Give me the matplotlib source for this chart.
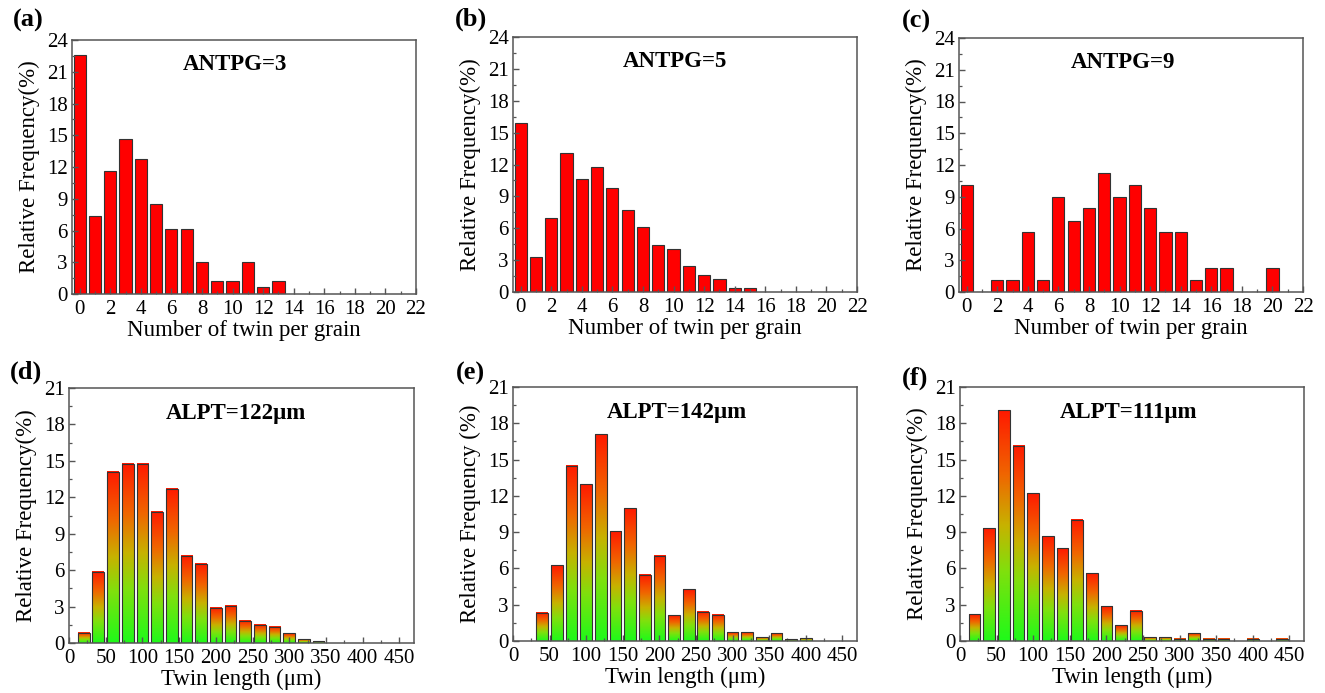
import numpy as np
import matplotlib
matplotlib.use("Agg")
import matplotlib.pyplot as plt
from matplotlib.colors import LinearSegmentedColormap
from matplotlib.ticker import MultipleLocator

plt.rcParams['font.family'] = ['Liberation Serif', 'DejaVu Serif']

# Twin count distributions (relative frequency, %), bins at 0, 1, 2, ...
twin_a = [22.6, 7.35, 11.6, 14.65, 12.8, 8.55, 6.1, 6.1, 3.05, 1.2, 1.2, 3.05, 0.62, 1.2]
twin_b = [15.9, 3.27, 6.94, 13.04, 10.6, 11.8, 9.77, 7.73, 6.09, 4.46, 4.08, 2.45,
          1.57, 1.19, 0.38, 0.38]
twin_c = [10.15, 0, 1.1, 1.1, 5.65, 1.1, 9.0, 6.75, 7.89, 11.25, 9.0, 10.15, 7.89,
          5.65, 5.65, 1.1, 2.26, 2.26, 0, 0, 2.26]

# Twin length distributions (relative frequency, %), bins centred at 20, 40, 60 ... um
len_d = [0.83, 5.86, 14.09, 14.78, 14.78, 10.82, 12.72, 7.18, 6.52, 2.92, 3.08, 1.84,
         1.51, 1.35, 0.8, 0.3, 0.14]
len_e = [0, 2.35, 6.26, 14.49, 12.97, 17.08, 9.08, 10.98, 5.46, 7.04, 2.12, 4.28, 2.43,
         2.18, 0.72, 0.72, 0.33, 0.63, 0.14, 0.22]
len_f = [2.2, 9.34, 19.07, 16.15, 12.23, 8.65, 7.66, 10.03, 5.62, 2.89, 1.32, 2.51,
         0.33, 0.33, 0.17, 0.66, 0.17, 0.17, 0, 0.17, 0, 0.17]

count_titles = ["ANTPG=3", "ANTPG=5", "ANTPG=9"]
length_titles = ["ALPT=122\u03bcm", "ALPT=142\u03bcm", "ALPT=111\u03bcm"]
panel_tags = ["(a)", "(b)", "(c)", "(d)", "(e)", "(f)"]
length_ylabels = ["Relative Frequency(%)", "Relative Frequency (%)", "Relative Frequency(%)"]

W, H = 1325, 693
fig = plt.figure(figsize=(W / 100, H / 100), dpi=100)

TICK_FS = 15
LABEL_FS = 16.5
TITLE_FS = 16.5
TAG_FS = 19

def axes_px(x0, y0, x1, y1):
    return fig.add_axes([x0 / W, 1 - y1 / H, (x1 - x0) / W, (y1 - y0) / H])

grad_cmap = LinearSegmentedColormap.from_list(
    "gr", [(0.0, (0.12, 0.98, 0.10)), (0.3, (0.50, 0.88, 0.05)),
           (0.5, (0.78, 0.70, 0.0)), (0.72, (0.94, 0.40, 0.0)),
           (1.0, (1.0, 0.10, 0.0))])
grad = np.linspace(1, 0, 256).reshape(-1, 1)

EDGE = "#333333"
SPINE = "#555555"

def style(ax, xlim, ylim, xmaj, xmin, ymaj=3, ymin=1.5):
    ax.set_xlim(*xlim)
    ax.set_ylim(*ylim)
    ax.xaxis.set_major_locator(MultipleLocator(xmaj))
    ax.xaxis.set_minor_locator(MultipleLocator(xmin))
    ax.yaxis.set_major_locator(MultipleLocator(ymaj))
    ax.yaxis.set_minor_locator(MultipleLocator(ymin))
    ax.tick_params(which="both", direction="in", top=False, right=False,
                   color=SPINE, labelsize=TICK_FS)
    ax.tick_params(which="major", length=4.5, width=1.0)
    ax.tick_params(which="minor", length=2.5, width=0.9)
    ax.tick_params(axis="x", pad=4)
    ax.tick_params(axis="y", pad=3)
    for s in ax.spines.values():
        s.set_color(SPINE)
        s.set_linewidth(1.1)
        s.set_zorder(5)
    ax.set_axisbelow(False)

count_boxes = [(72, 40, 416, 294), (513, 37, 857, 292), (959, 38, 1303, 292)]
length_boxes = [(69, 388, 414, 643), (513, 387, 857, 641), (960, 387, 1304, 641)]
count_tx = [0.474, 0.47, 0.477]
length_tx = [0.484, 0.475, 0.49]

for i, (vals, box) in enumerate(zip([twin_a, twin_b, twin_c], count_boxes)):
    ax = axes_px(*box)
    x = np.arange(len(vals))
    ax.bar(x, vals, width=0.8, color="#ff0000", edgecolor=EDGE, linewidth=0.8, zorder=2)
    style(ax, (-0.5, 22), (0, 24), 2, 1)
    ax.set_xlabel("Number of twin per grain", fontsize=LABEL_FS, labelpad=1)
    ax.set_ylabel("Relative Frequency(%)", fontsize=LABEL_FS, labelpad=5)
    ax.text(count_tx[i], 0.905, count_titles[i], transform=ax.transAxes,
            ha="center", va="center", fontsize=TITLE_FS, fontweight="bold")

for i, (vals, box) in enumerate(zip([len_d, len_e, len_f], length_boxes)):
    ax = axes_px(*box)
    centers = 20 * (np.arange(len(vals)) + 1)
    w = 16
    keep = [(c, v) for c, v in zip(centers, vals) if v > 0]
    for c, v in keep:
        ax.imshow(grad, cmap=grad_cmap, aspect="auto", interpolation="bilinear",
                  extent=(c - w / 2, c + w / 2, 0, v), zorder=2)
    ax.bar([c for c, _ in keep], [v for _, v in keep], width=w, facecolor="none",
           edgecolor=EDGE, linewidth=0.8, zorder=3)
    style(ax, (0, 470), (0, 21), 50, 25)
    ax.set_xlabel("Twin length (\u03bcm)", fontsize=LABEL_FS, labelpad=1)
    ax.set_ylabel(length_ylabels[i], fontsize=LABEL_FS, labelpad=5)
    ax.text(length_tx[i], 0.90, length_titles[i], transform=ax.transAxes,
            ha="center", va="center", fontsize=TITLE_FS, fontweight="bold")

tag_pos = [(28, 20), (471, 19), (916, 21), (26, 372), (470, 373), (915, 378)]
for tag, (px, py) in zip(panel_tags, tag_pos):
    fig.text(px / W, 1 - py / H, tag, ha="center", va="center",
             fontsize=TAG_FS, fontweight="bold")

fig.savefig("out.png", dpi=100)
